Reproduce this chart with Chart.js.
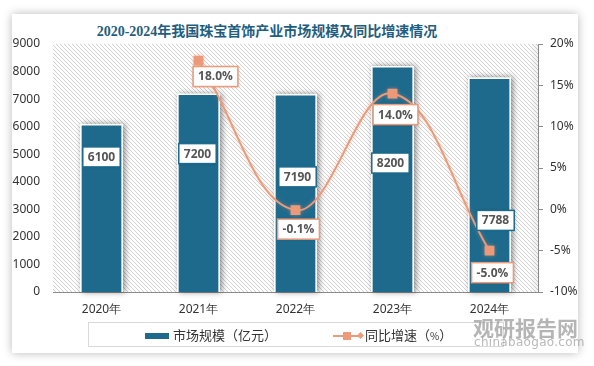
<!DOCTYPE html>
<html>
<head>
<meta charset="utf-8">
<script src="https://cdn.jsdelivr.net/npm/chart.js@4.4.1/dist/chart.umd.min.js"></script>
<style>
  html, body { margin: 0; padding: 0; background: #fff; }
  #wrap { position: relative; width: 594px; height: 366px; overflow: hidden; }
  #card { position: absolute; left: 12px; top: 14px; width: 566px; height: 339px; background: #fff;
          box-shadow: 0 0 9px rgba(0,0,0,0.28); }
  #title { position: absolute; left: 0; width: 534px; top: 20px; text-align: center;
           font: bold 14px "Liberation Serif", "Noto Sans CJK SC", serif; color: #1f5e80; }
  #chart { position: absolute; left: 0; top: 0; }
  #legend { position: absolute; left: 88px; top: 322px; width: 414px; height: 23px;
            border: 1px solid #d9d9d9; font: 13px "Noto Sans CJK SC", sans-serif; color: #333; }
  .lg { position: absolute; top: 2px; line-height: 19px; white-space: nowrap; }
  .sw { display: inline-block; vertical-align: middle; }
  #wm1 { position: absolute; left: 473px; top: 312px; font: bold 21px "Noto Sans CJK SC", sans-serif;
         color: rgba(150,150,150,0.7); }
  #wm2 { position: absolute; left: 474px; top: 335px; font: 12px "DejaVu Sans", sans-serif;
         color: rgba(160,160,160,0.75); letter-spacing: 0.3px; }
</style>
</head>
<body>
<div id="wrap">
  <div id="card"></div>
  <div id="title">2020-2024年我国珠宝首饰产业市场规模及同比增速情况</div>
  <canvas id="chart" width="594" height="366"></canvas>
  <div id="legend">
    <div class="lg" style="left:56px;"><span class="sw" style="width:24px;height:6px;background:#1d6a8d;margin-right:4px;"></span>市场规模（亿元）</div>
    <div class="lg" style="left:244px;">
      <span class="sw" style="position:relative;width:30px;height:10px;margin-right:2px;">
        <span style="position:absolute;left:0;top:4px;width:28px;height:2px;background:#ec9a79;"></span>
        <span style="position:absolute;left:10px;top:1px;width:8px;height:8px;background:#ec9a79;"></span>
        <span style="position:absolute;left:25px;top:2px;width:5px;height:5px;background:#ec9a79;transform:rotate(45deg);"></span>
      </span>同比增速（<span style="font-size:10px;">%</span>）</div>
  </div>
  <div id="wm1">观研报告网</div>
  <div id="wm2">chinabaogao.com</div>
</div>
<script>
const years = ["2020年", "2021年", "2022年", "2023年", "2024年"];
const marketSize = [6100, 7200, 7190, 8200, 7788];
const growthRate = [null, 18.0, -0.1, 14.0, -5.0];
const growthLabels = ["", "18.0%", "-0.1%", "14.0%", "-5.0%"];

const BAR_COLOR = "#1d6a8d";
const LINE_COLOR = "#ec9a79";

// hatched plot background
function makeHatch() {
  const c = document.createElement("canvas");
  c.width = 4; c.height = 4;
  const g = c.getContext("2d");
  g.fillStyle = "#ffffff";
  g.fillRect(0, 0, 4, 4);
  g.fillStyle = "#d2d2d2";
  for (let i = 0; i < 4; i++) g.fillRect(i, i, 1, 1);
  return g.createPattern(c, "repeat");
}

const hatchPlugin = {
  id: "hatch",
  beforeDatasetsDraw(chart) {
    const { ctx, chartArea: a } = chart;
    ctx.save();
    ctx.fillStyle = makeHatch();
    ctx.fillRect(a.left, a.top, a.right - a.left, a.bottom - a.top);
    // slight shade near right edge
    const gr = ctx.createLinearGradient(a.right - 10, 0, a.right, 0);
    gr.addColorStop(0, "rgba(0,0,0,0)");
    gr.addColorStop(1, "rgba(0,0,0,0.06)");
    ctx.fillStyle = gr;
    ctx.fillRect(a.right - 10, a.top, 10, a.bottom - a.top);
    ctx.restore();
  }
};

const shadowPlugin = {
  id: "shadows",
  beforeDatasetDraw(chart, args) {
    const ctx = chart.ctx;
    if (args.index === 0) {
      ctx.save();
      ctx.shadowColor = "rgba(0,0,0,0.45)";
      ctx.shadowBlur = 6;
      ctx.shadowOffsetX = 2;
      ctx.shadowOffsetY = 0;
      ctx.fillStyle = "#ffffff";
      args.meta.data.forEach((bar) => {
        const w = bar.width;
        ctx.fillRect(bar.x - w / 2, bar.y, w, bar.base - bar.y);
      });
      ctx.restore();
    } else {
      ctx.save();
      ctx.shadowColor = "rgba(236,154,121,0.45)";
      ctx.shadowBlur = 4;
    }
  },
  afterDatasetDraw(chart, args) {
    if (args.index !== 0) chart.ctx.restore();
  }
};

function drawBox(ctx, text, cx, cy, border) {
  ctx.font = "bold 12px 'Open Sans', 'DejaVu Sans', sans-serif";
  const w = ctx.measureText(text).width + 10;
  const h = 20;
  ctx.save();
  ctx.shadowColor = "rgba(0,0,0,0.25)";
  ctx.shadowBlur = 3;
  ctx.fillStyle = "#fff";
  ctx.fillRect(cx - w / 2, cy - h / 2, w, h);
  ctx.restore();
  ctx.lineWidth = 1.5;
  ctx.strokeStyle = border;
  ctx.strokeRect(cx - w / 2, cy - h / 2, w, h);
  ctx.fillStyle = "#555";
  ctx.textAlign = "center";
  ctx.textBaseline = "middle";
  ctx.fillText(text, cx, cy + 0.5);
}

const labelPlugin = {
  id: "boxLabels",
  afterDatasetsDraw(chart, args, opts) {
    const ctx = chart.ctx;
    ctx.save();
    const bars = chart.getDatasetMeta(0).data;
    bars.forEach((bar, i) => {
      const [dx, dy] = opts.barShift[i];
      drawBox(ctx, String(marketSize[i]), bar.x + dx, bar.y + dy, "#1d6a8d");
    });
    const pts = chart.getDatasetMeta(1).data;
    pts.forEach((p, i) => {
      if (growthRate[i] === null) return;
      const [dx, dy] = opts.lineShift[i];
      drawBox(ctx, growthLabels[i], p.x + dx, p.y + dy, LINE_COLOR);
    });
    ctx.restore();
  }
};

const tickFont = { family: "'Noto Sans', 'DejaVu Sans', sans-serif", size: 12 };

new Chart(document.getElementById("chart"), {
  type: "bar",
  data: {
    labels: years,
    datasets: [
      {
        label: "市场规模（亿元）",
        data: marketSize,
        backgroundColor: BAR_COLOR,
        borderColor: "#ffffff",
        borderWidth: 1.5,
        barPercentage: 0.44,
        categoryPercentage: 1,
        yAxisID: "y",
        order: 1
      },
      {
        type: "line",
        label: "同比增速（%）",
        data: growthRate,
        borderColor: LINE_COLOR,
        backgroundColor: LINE_COLOR,
        borderWidth: 2,
        pointStyle: "rect",
        pointRadius: 5.5,
        pointHoverRadius: 5.5,
        tension: 0.4,
        yAxisID: "y1",
        order: 0
      }
    ]
  },
  options: {
    responsive: false,
    animation: false,
    devicePixelRatio: 1,
    layout: { padding: { top: 44, left: 0, right: 0, bottom: 0 } },
    plugins: {
      legend: { display: false },
      tooltip: { enabled: false },
      boxLabels: {
        barShift: [[0, 33], [-1, 60], [2, 83], [-2, 97], [6, 143]],
        lineShift: [[0, 0], [17, 16], [3, 19], [3, 21], [3, 22]]
      }
    },
    scales: {
      x: {
        grid: { display: false, drawTicks: false },
        border: { display: true, color: "#8c8c8c", width: 1 },
        ticks: { color: "#333", font: tickFont, padding: 10 },
        afterFit: (s) => { s.height = 74; }
      },
      y: {
        position: "left",
        min: 0, max: 9000,
        grid: { display: false, drawTicks: false },
        border: { display: false },
        ticks: { stepSize: 1000, color: "#333", font: tickFont, padding: 13, callback: (v) => String(v) },
        afterFit: (s) => { s.width = 53; }
      },
      y1: {
        position: "right",
        min: -10, max: 20,
        grid: { display: true, drawOnChartArea: false, drawTicks: true, tickLength: 5, color: "#8c8c8c" },
        border: { display: true, color: "#8c8c8c", width: 1 },
        ticks: { stepSize: 5, color: "#333", font: tickFont, padding: 7, callback: (v) => v + "%" },
        afterFit: (s) => { s.width = 56; }
      }
    }
  },
  plugins: [hatchPlugin, shadowPlugin, labelPlugin]
});
</script>
</body>
</html>
